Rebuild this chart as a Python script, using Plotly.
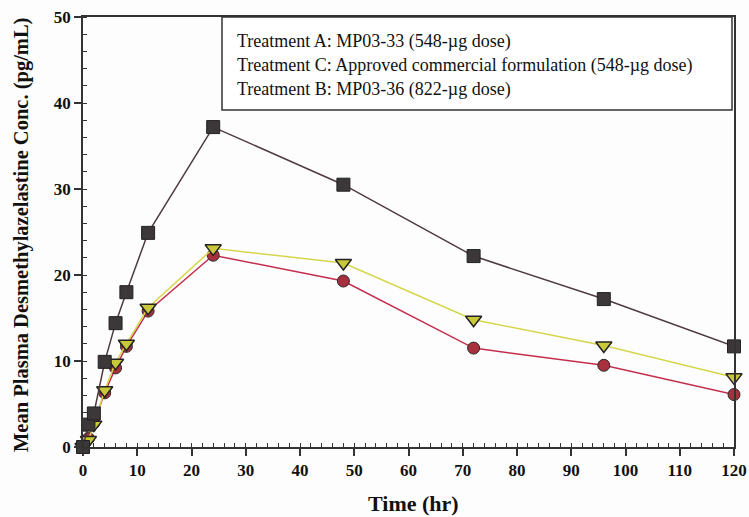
import plotly.graph_objects as go

time_hr = [0, 1, 2, 4, 6, 8, 12, 24, 48, 72, 96, 120]
treat_b = [0, 2.6, 3.9, 9.9, 14.4, 18.0, 24.9, 37.2, 30.5, 22.2, 17.2, 11.7]
treat_c = [0, 0.8, 2.6, 6.6, 9.8, 12.0, 16.2, 23.1, 21.4, 14.8, 11.8, 8.1]
treat_a = [0, 1.0, 2.8, 6.3, 9.2, 11.7, 15.8, 22.3, 19.3, 11.5, 9.5, 6.1]
legend_lines = [
    "Treatment A: MP03-33 (548-\u00b5g dose)",
    "Treatment C: Approved commercial formulation (548-\u00b5g dose)",
    "Treatment B: MP03-36 (822-\u00b5g dose)",
]
x_ticks = list(range(0, 121, 10))
y_ticks = list(range(0, 51, 10))
x_title = "Time (hr)"
y_title = "Mean Plasma Desmethylazelastine Conc. (pg/mL)"

SERIF = "Liberation Serif, Times New Roman, serif"

W, H = 749, 517

fig = go.Figure()
fig.add_trace(go.Scatter(
    x=time_hr, y=treat_a, mode="lines+markers", name=legend_lines[0],
    line=dict(color="#c42e4c", width=1.5),
    marker=dict(symbol="circle", size=12, color="#a8303c",
                line=dict(color="#2a2a2a", width=1)),
    cliponaxis=False))
fig.add_trace(go.Scatter(
    x=time_hr, y=treat_c, mode="lines+markers", name=legend_lines[1],
    line=dict(color="#d6d64a", width=1.5),
    marker=dict(symbol="triangle-down", size=14, color="#c8c83a",
                line=dict(color="#222222", width=1.5)),
    cliponaxis=False))
fig.add_trace(go.Scatter(
    x=time_hr, y=treat_b, mode="lines+markers", name=legend_lines[2],
    line=dict(color="#4e3a42", width=1.5),
    marker=dict(symbol="square", size=13, color="#3c3739",
                line=dict(color="#222222", width=1)),
    cliponaxis=False))

# pixel frame of the plot area
px0, px1 = 83, 734
py0, py1 = 17, 447
def xp(p):
    return (p - px0) / (px1 - px0)
def yp(p):
    return (py1 - p) / (py1 - py0)

fig.add_shape(type="rect", xref="paper", yref="paper",
              x0=xp(222), x1=xp(732), y0=yp(110), y1=yp(17),
              line=dict(color="#333333", width=1.5), fillcolor="white", layer="above")
for i, txt in enumerate(legend_lines):
    fig.add_annotation(xref="paper", yref="paper", x=xp(235), y=yp(41 + 24 * i),
                       xanchor="left", yanchor="middle", showarrow=False, text=txt,
                       font=dict(family=SERIF, size=18, color="#111111"))

# axis titles
fig.add_annotation(xref="paper", yref="paper", x=xp(413), y=yp(503),
                   xanchor="center", yanchor="middle", showarrow=False,
                   text="<b>" + x_title + "</b>",
                   font=dict(family=SERIF, size=22, color="#111111"))
fig.add_annotation(xref="paper", yref="paper", x=xp(22), y=yp(235),
                   xanchor="center", yanchor="middle", showarrow=False, textangle=-90,
                   text="<b>" + y_title + "</b>",
                   font=dict(family=SERIF, size=20.5, color="#111111"))

axis_common = dict(
    showline=True, linecolor="#333333", linewidth=1.5, mirror=True,
    ticks="outside", ticklen=7, tickwidth=1.5, tickcolor="#333333",
    showgrid=False, zeroline=False, automargin=False, ticklabeloverflow="allow",
    tickfont=dict(family=SERIF, size=17, color="#111111", weight="bold"),
)

fig.update_xaxes(range=[0, 120], tickvals=x_ticks, ticktext=[str(v) for v in x_ticks],
                 minor=dict(dtick=2, ticks="inside", ticklen=4, tickcolor="#333333", tickwidth=1),
                 **axis_common)
fig.update_yaxes(range=[0, 50], tickvals=y_ticks, ticktext=[str(v) for v in y_ticks],
                 minor=dict(dtick=2, ticks="inside", ticklen=4, tickcolor="#333333", tickwidth=1),
                 **axis_common)

fig.update_layout(
    width=W, height=H,
    margin=dict(l=px0, r=W - px1, t=py0, b=H - py1),
    paper_bgcolor="#fdfdfd", plot_bgcolor="#fdfdfd",
    showlegend=False,
)

fig.write_html(
    "out.html",
    config={"displayModeBar": False},
    post_script="document.body.style.margin='0px';document.body.style.overflow='hidden';",
)
